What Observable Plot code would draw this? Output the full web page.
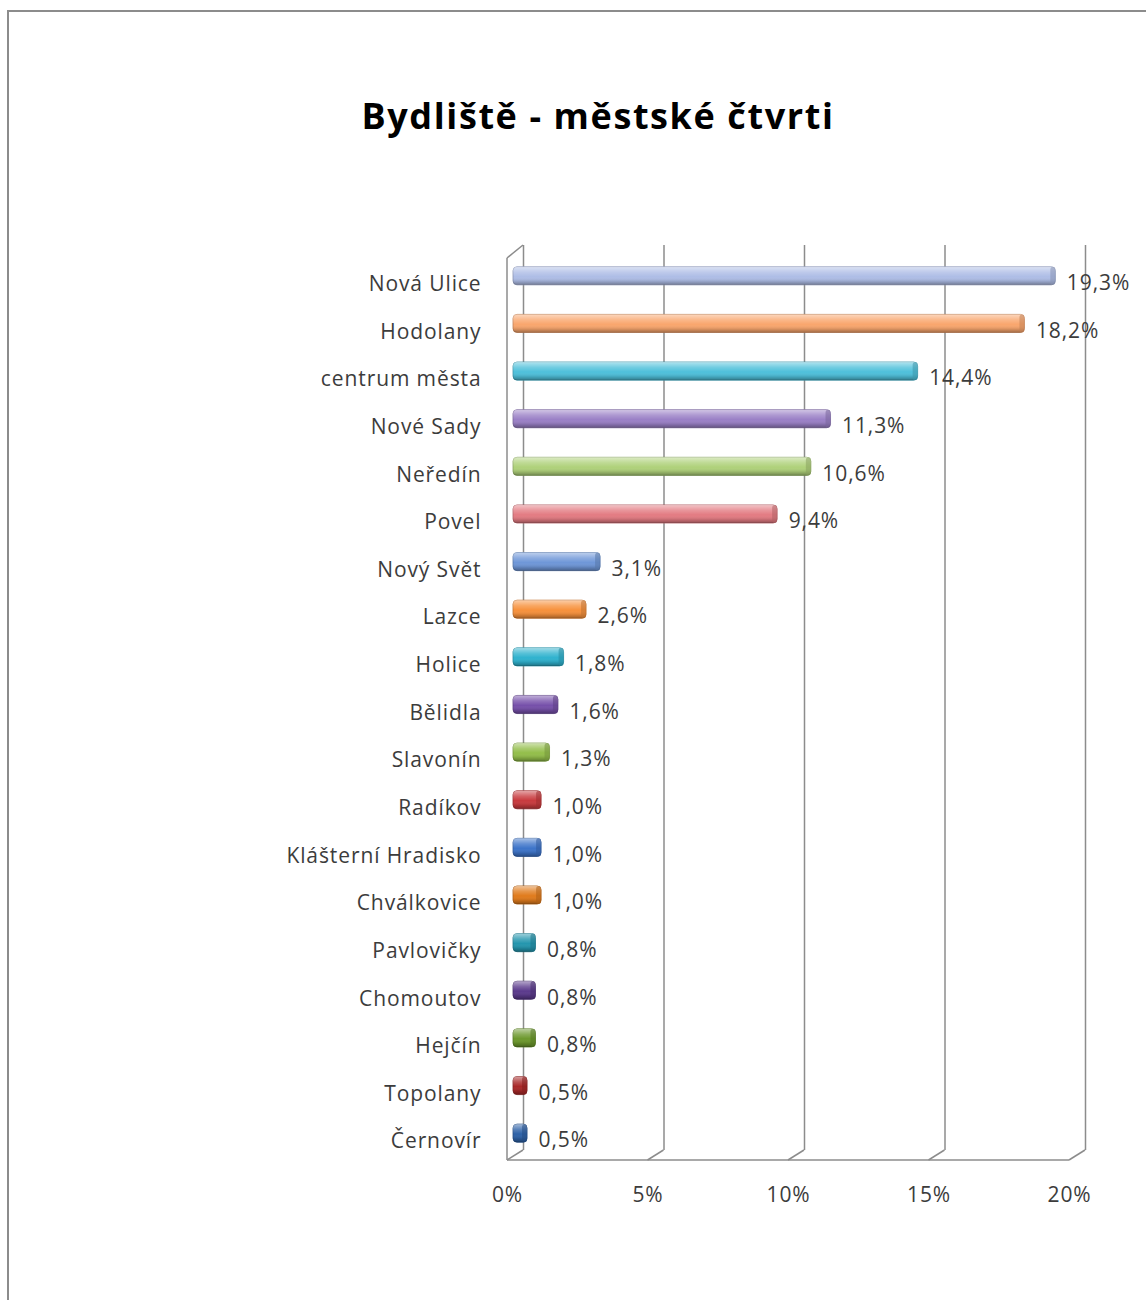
<!DOCTYPE html>
<html>
<head>
<meta charset="utf-8">
<script src="https://cdn.jsdelivr.net/npm/d3@7"></script>
<script src="https://cdn.jsdelivr.net/npm/@observablehq/plot@0.6"></script>
<style>
  html, body { margin: 0; padding: 0; background: #fff; overflow: hidden; width: 1146px; height: 1300px; }
  #border { position: absolute; left: 7px; top: 10px; width: 1300px; height: 1400px; border: 2px solid #8c8c8c; box-sizing: border-box; }
  #title { position: absolute; left: 0; top: 94px; width: 1196px; text-align: center; font-family: "Open Sans", sans-serif; font-weight: 700; font-size: 36px; letter-spacing: 1.6px; line-height: 44px; color: #000; }
  #chart { position: absolute; left: 0; top: 170px; }
  #chart text { letter-spacing: 0.9px; }
</style>
</head>
<body>
<div id="border"></div>
<div id="title">Bydliště - městské čtvrti</div>
<div id="chart"></div>
<script>
const categories = ["Nová Ulice", "Hodolany", "centrum města", "Nové Sady", "Neředín", "Povel",
  "Nový Svět", "Lazce", "Holice", "Bělidla", "Slavonín", "Radíkov", "Klášterní Hradisko",
  "Chválkovice", "Pavlovičky", "Chomoutov", "Hejčín", "Topolany", "Černovír"];
const values = [19.3, 18.2, 14.4, 11.3, 10.6, 9.4, 3.1, 2.6, 1.8, 1.6, 1.3, 1.0, 1.0, 1.0, 0.8, 0.8, 0.8, 0.5, 0.5];
const colors = ["#AEBDE6", "#F9A66D", "#4EC0DA", "#9A80C6", "#AFD17A", "#E37B82",
  "#6F97D8", "#F7913C", "#2FB2CE", "#7650AA", "#93BE4A", "#C83A3E",
  "#3D74C9", "#E07B1C", "#2496AE", "#5B3A8C", "#6C982C", "#A82828", "#2E62A8"];
const xTicks = [0, 5, 10, 15, 20];

const data = categories.map((cat, i) => ({
  cat, i, value: values[i], color: colors[i],
  dark: d3.color(colors[i]).darker(0.7).formatHex()
}));

const fmt = v => v.toFixed(1).replace(".", ",") + "%";
const HALF = 0.19;   // half bar thickness in band units
const N = categories.length;
const font = "'Open Sans', sans-serif";

function frame3d(index, scales) {
  const {x, y} = scales;
  const yTop = y(-0.5), yBot = y(N - 0.5);
  const g = d3.create("svg:g").attr("stroke", "#8c8c8c").attr("stroke-width", 1.5).attr("fill", "none");
  const seg = (x1, y1, x2, y2) => g.append("line").attr("x1", x1).attr("y1", y1).attr("x2", x2).attr("y2", y2);
  // left wall: front edge and top edge
  seg(x(0) - 6, yTop + 6, x(0) - 6, yBot + 3);
  seg(x(0) - 6, yTop + 6, x(0) + 10, yTop - 7);
  // floor front edge
  seg(x(0) - 6, yBot + 3, x(xTicks[xTicks.length - 1]) - 6, yBot + 3);
  // floor gridlines (diagonals)
  for (const v of xTicks) seg(x(v) - 6, yBot + 3, x(v) + 10, yBot - 7);
  return g.node();
}

const plot = Plot.plot({
  width: 1146,
  height: 1100,
  marginTop: 82,
  marginBottom: 113,
  marginLeft: 513,
  marginRight: 71,
  style: {fontFamily: font, background: "transparent", overflow: "visible"},
  x: {domain: [0, 20], axis: null},
  y: {domain: [-0.5, N - 0.5], reverse: true, axis: null},
  marks: [
    Plot.ruleX(xTicks, {x: d => d, dx: 10, dy: -7, stroke: "#8c8c8c", strokeWidth: 1.5}),
    frame3d,
    Plot.rect(data, {x1: 0, x2: "value", y1: d => d.i - HALF, y2: d => d.i + HALF, fill: "color", stroke: "dark", strokeWidth: 0.8, rx: 4}),
    Plot.rect(data, {x1: 0, x2: "value", y1: d => d.i - HALF, y2: d => d.i + HALF, fill: "url(#shade)", rx: 4}),
    Plot.rect(data, {x1: "value", x2: "value", insetLeft: -5, y1: d => d.i - HALF, y2: d => d.i + HALF, fill: "dark", fillOpacity: 0.55, rx: 3}),
    Plot.text(data, {x: 0, y: "i", text: "cat", textAnchor: "end", dx: -32, dy: 8, fontSize: 21, fill: "#3c3c3c"}),
    Plot.text(data, {x: "value", y: "i", text: d => fmt(d.value), textAnchor: "start", dx: 11, dy: 7, fontSize: 21, fill: "#3c3c3c"}),
    Plot.text(xTicks, {x: d => d, text: d => d + "%", frameAnchor: "bottom", dx: -6, dy: 44, fontSize: 21, fill: "#3c3c3c"})
  ]
});

const defs = d3.select(plot).insert("defs", ":first-child");
const grad = defs.append("linearGradient").attr("id", "shade").attr("x1", 0).attr("y1", 0).attr("x2", 0).attr("y2", 1);
[[0, "#fff", 0.55], [0.3, "#fff", 0.2], [0.55, "#fff", 0], [0.8, "#000", 0.12], [1, "#000", 0.35]]
  .forEach(([o, c, a]) => grad.append("stop").attr("offset", o).attr("stop-color", c).attr("stop-opacity", a));

document.getElementById("chart").appendChild(plot);
</script>
</body>
</html>
